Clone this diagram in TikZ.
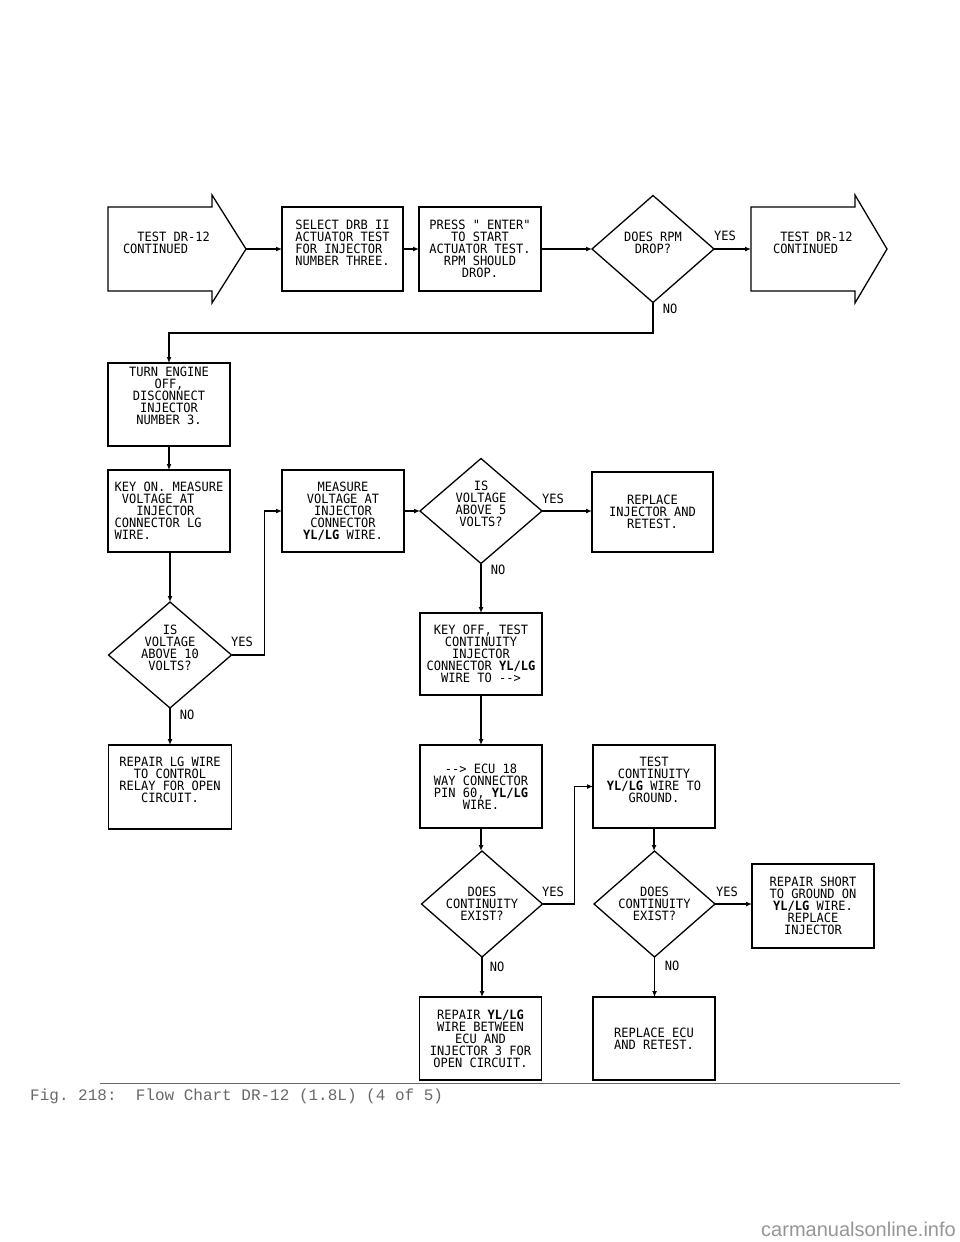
\documentclass[tikz,border=0pt]{standalone}
\usepackage{fontspec}
\usetikzlibrary{shapes.geometric,arrows.meta}
\newfontfamily\plotfont[FakeStretch=0.94]{DejaVu Sans Mono}
\newfontfamily\captfont{Liberation Mono}
\newfontfamily\wmfont{Liberation Sans}
\newcommand\dasharr{\mbox{-}\mbox{-}>}
\newcommand\ylgw{\textbf{YL/LG}}
\definecolor{captgray}{RGB}{105,105,105}
\definecolor{wmgray}{RGB}{150,150,150}
\tikzset{
  txt/.style={font={\plotfont\fontsize{12.8}{12}\selectfont}, inner sep=0pt, outer sep=0pt, text=black},
  box/.style={txt, draw, line width=1.3pt, align=center, minimum width=122pt, minimum height=83pt},
  dia/.style={draw, shape=diamond, line width=1.3pt, minimum width=122pt, minimum height=106pt, inner sep=0pt, outer sep=0pt},
  shp/.style={draw, line width=1.3pt, line join=miter},
  con/.style={line width=1.2pt},
  arr/.style={con, -{Latex[length=6pt,width=5pt]}},
  lbl/.style={txt},
}
\begin{document}
\begin{tikzpicture}[x=1pt,y=-1pt]
\useasboundingbox[fill=white] (0,0) rectangle (960,1242);

% ---- top row ----
\draw[shp] (108,207) -- (212,207) -- (212,195) -- (246,249) -- (212,303) -- (212,291) -- (108,291) -- cycle;
\node[txt, align=left, anchor=west] (latext) at (123,243) {~~TEST DR-12\\CONTINUED};
\coordinate (latip) at (246,249);

\node[box, align=left, minimum width=121pt, minimum height=84pt, text depth=12pt] (select) at (342.5,249)
  {SELECT DRB II\\ACTUATOR TEST\\FOR INJECTOR\\NUMBER THREE.};
\node[box, minimum height=84pt] (press) at (480,249)
  {PRESS " ENTER"\\TO START\\ACTUATOR TEST.\\RPM SHOULD\\DROP.};
\node[dia, minimum height=107pt] (rpm) at (653,249) {};
\node[txt, align=center] (rpmt) at (653,243) {DOES RPM\\DROP?};

\draw[shp] (751,207) -- (855,207) -- (855,195) -- (887,249) -- (855,303) -- (855,291) -- (751,291) -- cycle;
\node[txt, align=left, anchor=west] (ratext) at (773,243) {~TEST DR-12\\CONTINUED};
\coordinate (ratail) at (751,249);

\draw[arr] (latip) -- (select.west);
\draw[arr] (select.east) -- (press.west);
\draw[arr] (press.east) -- (rpm.west);
\draw[arr] (rpm.east) -- (ratail);
\node[lbl] (yes1) at (725,236) {YES};
\node[lbl] (no1) at (670,309) {NO};
\coordinate (bend1) at (653,333);

% ---- left column ----
\node[box, text depth=18pt] (turn) at (169,404.5)
  {TURN ENGINE\\OFF,\\DISCONNECT\\INJECTOR\\NUMBER 3.};
\draw[arr] (rpm.south) -- (bend1) -| (turn.north);
\node[box, align=left, minimum height=82pt] (keyon) at (169,511)
  {KEY ON. MEASURE\\~VOLTAGE AT\\~~~INJECTOR\\CONNECTOR LG\\WIRE.};
\node[dia, minimum width=123pt] (v10) at (170,655) {};
\node[txt, align=center] (v10t) at (170,648) {IS\\VOLTAGE\\ABOVE 10\\VOLTS?};
\node[box, minimum width=123pt, minimum height=84pt, text depth=14pt] (repairlg) at (170,787)
  {REPAIR LG WIRE\\TO CONTROL\\RELAY FOR OPEN\\CIRCUIT.};

\draw[arr] (turn.south) -- (turn.south |- keyon.north);
\draw[arr] (keyon.south) -- (keyon.south -| v10.north) -- (v10.north);
\draw[arr] (v10.south) -- (v10.south |- repairlg.north);
\node[lbl] (yes2) at (242,642) {YES};
\node[lbl] (no2) at (187,715) {NO};

% ---- middle ----
\node[box, minimum height=82pt] (measure) at (343,511)
  {MEASURE\\VOLTAGE AT\\INJECTOR\\CONNECTOR\\\ylgw{} WIRE.};
\draw[arr] (v10.east) -- ([xshift=33pt]v10.east) |- (measure.west);

\node[dia, minimum height=105pt] (v5) at (481,511) {};
\node[txt, align=center] (v5t) at (481,504) {IS\\VOLTAGE\\ABOVE 5\\VOLTS?};
\node[box, minimum width=121pt, minimum height=80pt] (replace) at (652.5,512)
  {REPLACE\\INJECTOR AND\\RETEST.};
\draw[arr] (measure.east) -- (v5.west);
\draw[arr] (v5.east) -- (v5.east -| replace.west);
\node[lbl] (yes3) at (553,499) {YES};
\node[lbl] (no3) at (498,570) {NO};

\node[box, minimum height=82pt] (keyoff) at (481,654)
  {KEY OFF, TEST\\CONTINUITY\\INJECTOR\\CONNECTOR \ylgw\\WIRE TO \dasharr};
\draw[arr] (v5.south) -- (keyoff.north);

\node[box] (ecu) at (481,786.5)
  {\dasharr{} ECU 18\\WAY CONNECTOR\\PIN 60, \ylgw\\WIRE.};
\draw[arr] (keyoff.south) -- (ecu.north);

\node[box, text depth=14pt] (testcont) at (654,786.5)
  {TEST\\CONTINUITY\\\ylgw{} WIRE TO\\GROUND.};

\node[dia, minimum width=121pt] (cont1) at (482,904) {};
\node[txt, align=center] (cont1t) at (482,904) {DOES\\CONTINUITY\\EXIST?};
\draw[arr] (ecu.south) -- (ecu.south |- cont1.north);
\draw[arr] (cont1.east) -- ([xshift=32pt]cont1.east) |- (testcont.west);
\node[lbl] (yes4) at (553,892) {YES};

\node[dia, minimum width=121pt] (cont2) at (654.5,904) {};
\node[txt, align=center] (cont2t) at (654.5,904) {DOES\\CONTINUITY\\EXIST?};
\draw[arr] (testcont.south) -- (testcont.south |- cont2.north);
\node[lbl] (yes5) at (727,892) {YES};

\node[box, minimum height=84pt] (repairshort) at (813,906)
  {REPAIR SHORT\\TO GROUND ON\\\ylgw{} WIRE.\\REPLACE\\INJECTOR};
\draw[arr] (cont2.east) -- (cont2.east -| repairshort.west);

\node[box] (repairyl) at (480.5,1038.5)
  {REPAIR \ylgw\\WIRE BETWEEN\\ECU AND\\INJECTOR 3 FOR\\OPEN CIRCUIT.};
\node[box] (replaceecu) at (654,1038.5)
  {REPLACE ECU\\AND RETEST.};
\draw[arr] (cont1.south) -- (cont1.south |- repairyl.north);
\draw[arr] (cont2.south) -- (cont2.south |- replaceecu.north);
\node[lbl] (no4) at (497,967) {NO};
\node[lbl] (no5) at (672,966) {NO};

% ---- caption ----
\draw[captgray, line width=1pt] (100,1083) -- (900,1083);
\node[font={\captfont\fontsize{16}{16}\selectfont}, text=captgray, anchor=base west, inner sep=0pt] (cap) at (30,1100)
  {Fig.~218:~~Flow~Chart~DR-12~(1.8L)~(4~of~5)};
\node[font={\wmfont\fontsize{20}{20}\selectfont}, text=wmgray, anchor=base east, inner sep=0pt] (wm) at (956,1236)
  {carmanualsonline.info};
\end{tikzpicture}
\end{document}
